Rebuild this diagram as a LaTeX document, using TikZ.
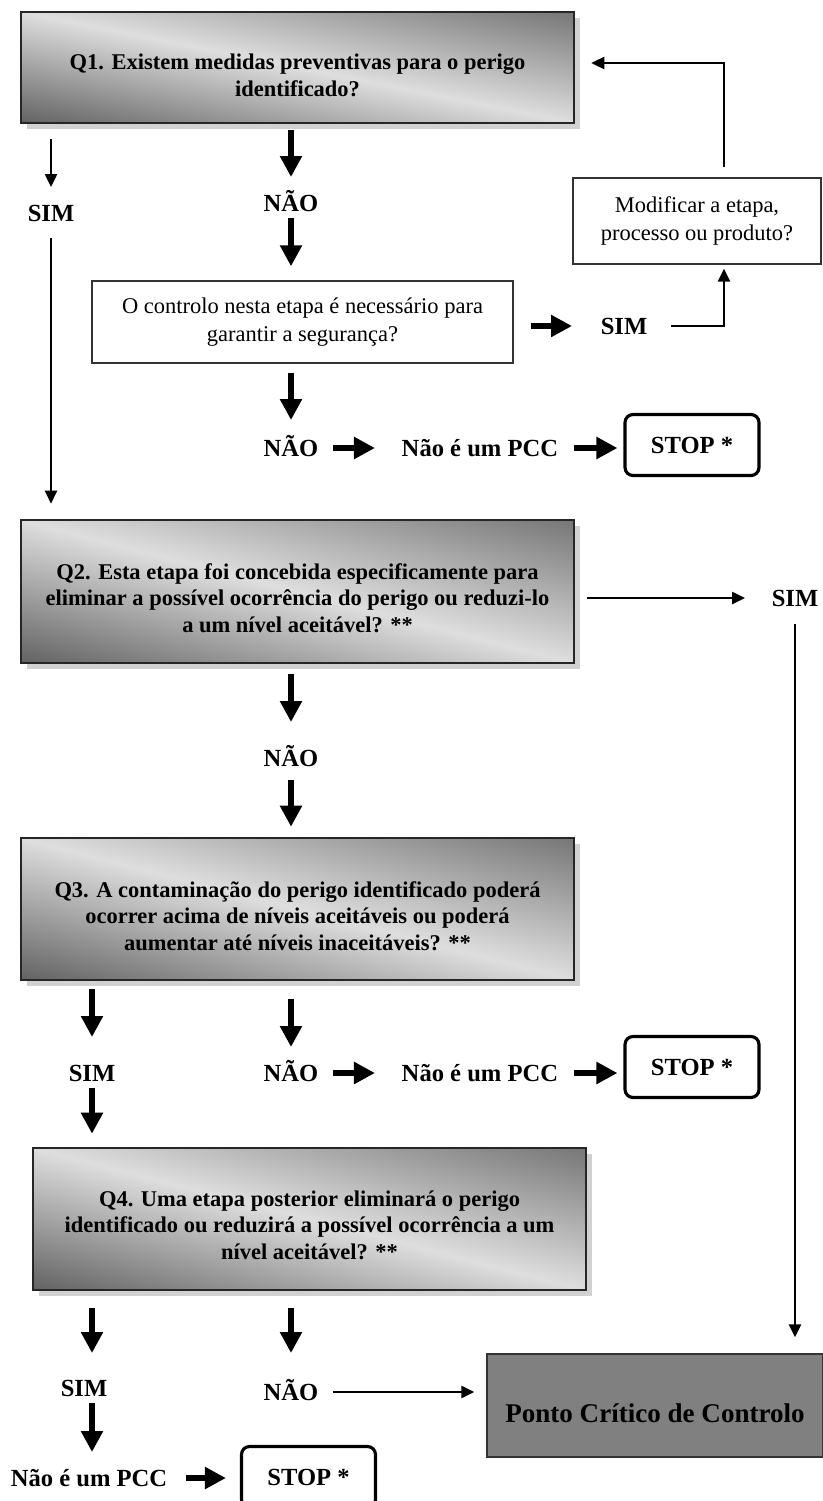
\documentclass[tikz,border=0pt]{standalone}
\usepackage{fontspec}
\setmainfont{Liberation Serif}
\usepackage{tikz}
\usetikzlibrary{shapes.geometric, arrows.meta, shadows, calc}
\tikzstyle{fatarrow} = [line width=3.4pt, -{Triangle[length=4.2mm,width=4.2mm]}]
\tikzstyle{slimarrow} = [line width=1.4pt, -{Triangle[length=2.6mm,width=2.4mm]}]

\begin{document}
\begin{tikzpicture}[x=0.02cm, y=-0.02cm,
		question/.style n args={2}{
			rectangle,
			draw=black!85,
			line width=1.5pt,
			drop shadow={shadow xshift=0.12cm, shadow yshift=-0.12cm, fill=black!18, opacity=1},
			path picture={
				\shade[transform canvas={rotate around={#1:(path picture bounding box.center)}},
					top color=black!54, bottom color=black!62, middle color=black!13]
					($(path picture bounding box.center)+(-320,-#2)$) rectangle ($(path picture bounding box.center)+(320,#2)$);
			},
			minimum width=11.06cm},
		qtext/.style={font=\fontsize{12.8}{15}\selectfont\bfseries, align=center},
		plain/.style={rectangle, draw=black!80, line width=0.8pt, font=\fontsize{12.8}{16}\selectfont, align=center},
		answer/.style={font=\fontsize{14}{16}\selectfont\bfseries, inner sep=0pt, text height=9.3pt, text depth=0pt},
		stopbox/.style={answer, draw, line width=1.8pt, rounded corners=0.16cm, minimum width=2.68cm, minimum height=1.22cm}]

		\useasboundingbox (0,0) rectangle (822,1501);

		\node (q1) [question={-11.35}{110}, minimum height=2.22cm] at (297.5,67.5) {};
		\node (q1t) [qtext] at ($(q1)+(0,8)$) {Q1. Existem medidas preventivas para o perigo\\identificado?};
		\node (sim1) [answer] at (51,213) {SIM};
		\node (nao1) [answer] at (291,203) {NÃO};
		\node (ctrl) [plain, minimum width=8.42cm, minimum height=1.64cm] at (302.5,322) {O controlo nesta etapa é necessário para\\garantir a segurança?};
		\node (modif) [plain, minimum width=4.96cm, minimum height=1.72cm] at (697,221) {Modificar a etapa,\\processo ou produto?};
		\node (simc) [answer] at (624,326) {SIM};
		\node (nao2) [answer] at (291,448) {NÃO};
		\node (npcc1) [answer, right of=nao2, xshift=2.78cm] {Não é um PCC};
		\node (stop1) [stopbox] at (692,445) {STOP *};

		\node (q2) [question={-14.5}{140}, minimum height=2.86cm] at (297.5,591.5) {};
		\node (q2t) [qtext] at ($(q2)+(0,6.5)$) {Q2. Esta etapa foi concebida especificamente para\\eliminar a possível ocorrência do perigo ou reduzi-lo\\a um nível aceitável? **};
		\node (sim2) [answer] at (795,598) {SIM};
		\node (nao3) [answer] at (291,758) {NÃO};

		\node (q3) [question={-14.4}{139}, minimum height=2.84cm] at (297.5,909) {};
		\node (q3t) [qtext] at ($(q3)+(0,7)$) {Q3. A contaminação do perigo identificado poderá\\ocorrer acima de níveis aceitáveis ou poderá\\aumentar até níveis inaceitáveis? **};
		\node (sim3) [answer] at (92,1073) {SIM};
		\node (nao5) [answer] at (291,1073) {NÃO};
		\node (npcc2) [answer, right of=nao5, xshift=2.78cm] {Não é um PCC};
		\node (stop2) [stopbox] at (692,1067) {STOP *};

		\node (q4) [question={-14.4}{139}, minimum height=2.84cm] at (309.5,1219) {};
		\node (q4t) [qtext] at ($(q4)+(0,6)$) {Q4. Uma etapa posterior eliminará o perigo\\identificado ou reduzirá a possível ocorrência a um\\nível aceitável? **};
		\node (sim4) [answer] at (84,1388) {SIM};
		\node (nao4) [answer] at (291,1392) {NÃO};
		\node (pcc) [rectangle, draw=black!80, fill=black!50, line width=0.8pt, minimum width=6.72cm, minimum height=2.06cm] at (655,1405.5) {};
		\node (pcct) [font=\fontsize{15.4}{18}\selectfont\bfseries] at ($(pcc)+(0,7.5)$) {Ponto Crítico de Controlo};
		\node (npcc3) [answer] at (89,1478) {Não é um PCC};
		\node (stop3) [stopbox] at (308.5,1477) {STOP *};

		\coordinate (ret) at ($(modif.north)+(27,0)$);
		\coordinate (q1in) at ($(q1.east)+(0,-4.5)$);

		\draw[slimarrow, shorten <=0.3cm, shorten >=0.52cm] (q1.south -| sim1) -- (sim1.center);
		\draw[slimarrow, shorten <=0.5cm, shorten >=0.3cm] (sim1.center) -- (sim1 |- q2.north);
		\draw[fatarrow, shorten <=0.12cm, shorten >=0.52cm] (q1.south -| nao1) -- (nao1.center);
		\draw[fatarrow, shorten <=0.3cm, shorten >=0.28cm] (nao1.center) -- (nao1 |- ctrl.north);
		\draw[fatarrow, shorten <=0.34cm, shorten >=1.04cm] (ctrl.east |- simc) -- (simc.center);
		\draw[slimarrow, shorten <=0.94cm, shorten >=0.08cm] (simc.center) -- (simc -| ret) -- (ret |- modif.south);
		\draw[slimarrow, shorten <=0.2cm, shorten >=0.32cm] (ret) -- (ret |- q1in) -- (q1in);
		\draw[fatarrow, shorten <=0.18cm, shorten >=0.56cm] (ctrl.south -| nao2) -- (nao2.center);
		\draw[fatarrow, shorten <=0.84cm, shorten >=2.1cm] (nao2.center) -- (npcc1.center);
		\draw[fatarrow, shorten <=1.88cm, shorten >=0.12cm] (npcc1.center) -- (stop1.west |- npcc1);

		\draw[slimarrow, shorten <=0.24cm, shorten >=1.0cm] (q2.east |- sim2) -- (sim2.center);
		\draw[slimarrow, shorten <=0.52cm, shorten >=0.32cm] (sim2.center) -- (sim2 |- pcc.north);
		\draw[fatarrow, shorten <=0.2cm, shorten >=0.72cm] (q2.south -| nao3) -- (nao3.center);
		\draw[fatarrow, shorten <=0.44cm, shorten >=0.2cm] (nao3.center) -- (nao3 |- q3.north);

		\draw[fatarrow, shorten <=0.16cm, shorten >=0.72cm] (q3.south -| sim3) -- (sim3.center);
		\draw[fatarrow, shorten <=0.36cm, shorten >=0.52cm] (q3.south -| nao5) -- (nao5.center);
		\draw[fatarrow, shorten <=0.84cm, shorten >=2.1cm] (nao5.center) -- (npcc2.center);
		\draw[fatarrow, shorten <=1.88cm, shorten >=0.12cm] (npcc2.center) -- (stop2.west |- npcc2);
		\draw[fatarrow, shorten <=0.3cm, shorten >=0.26cm] (sim3.center) -- (sim3 |- q4.north);

		\draw[fatarrow, shorten <=0.34cm, shorten >=0.7cm] (q4.south -| sim3) -- (sim3 |- sim4.center);
		\draw[fatarrow, shorten <=0.34cm, shorten >=0.78cm] (q4.south -| nao4) -- (nao4.center);
		\draw[slimarrow, shorten <=0.84cm, shorten >=0.24cm] (nao4.center) -- (pcc.west |- nao4);
		\draw[fatarrow, shorten <=0.3cm, shorten >=0.52cm] (sim3 |- sim4.center) -- (sim3 |- npcc3.center);
		\draw[fatarrow, shorten <=1.94cm, shorten >=0.28cm] (npcc3.center) -- (stop3.west |- npcc3);
	\end{tikzpicture}
\end{document}
